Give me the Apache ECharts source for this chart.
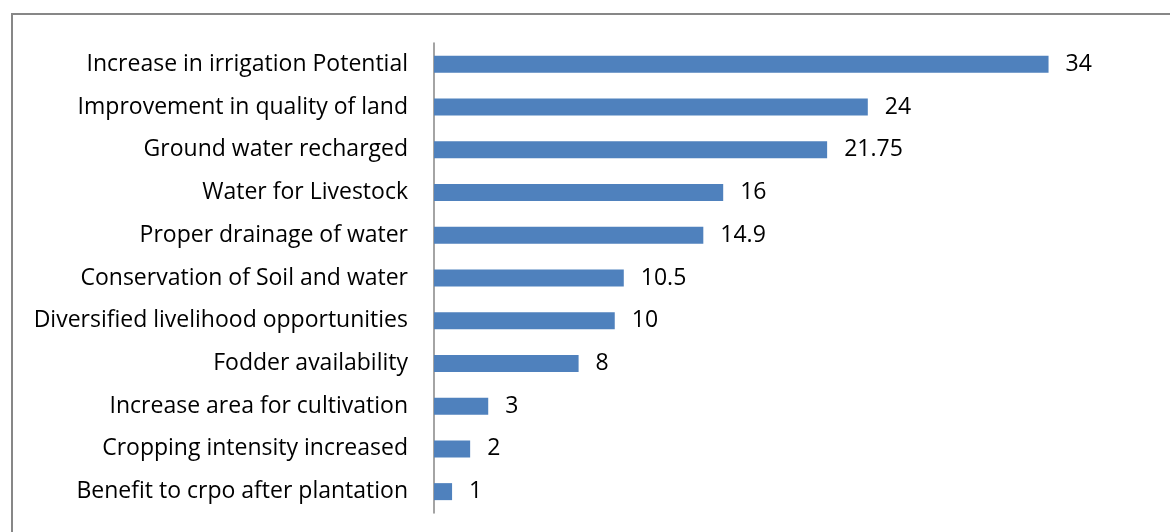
<!DOCTYPE html>
<html>
<head>
<meta charset="utf-8">
<script src="https://cdn.jsdelivr.net/npm/echarts@6/dist/echarts.min.js"></script>
<style>
  html, body { margin: 0; padding: 0; background: #fff; }
  #chart { width: 1170px; height: 532px; }
</style>
</head>
<body>
<div id="chart"></div>
<script>
// Reported benefits, listed bottom-to-top as the category axis draws them
const categories = [
  'Benefit to crpo after plantation',
  'Cropping intensity increased',
  'Increase area for cultivation',
  'Fodder availability',
  'Diversified livelihood opportunities',
  'Conservation of Soil and water',
  'Proper drainage of water',
  'Water for Livestock',
  'Ground water recharged',
  'Improvement in quality of land',
  'Increase in irrigation Potential'
];
const values = [1, 2, 3, 8, 10, 10.5, 14.9, 16, 21.75, 24, 34];

const FONT = '"Open Sans", "Noto Sans", sans-serif';

const chart = echarts.init(document.getElementById('chart'), null, { renderer: 'canvas' });
chart.setOption({
  animation: false,
  backgroundColor: '#ffffff',
  graphic: [{
    type: 'rect',
    shape: { x: 12, y: 14, width: 1200, height: 600 },
    style: { fill: 'none', stroke: '#878787', lineWidth: 2 },
    silent: true
  }],
  grid: { left: 434, right: 13, top: 43, height: 470, containLabel: false },
  xAxis: {
    type: 'value',
    min: 0,
    max: 40,
    show: false
  },
  yAxis: {
    type: 'category',
    data: categories,
    axisLine: { show: true, lineStyle: { color: '#868686', width: 1.5 } },
    axisTick: { show: false },
    axisLabel: {
      color: '#000',
      fontFamily: FONT,
      fontSize: 23,
      margin: 26,
      verticalAlign: 'middle',
      lineHeight: 23,
      padding: [6, 0, 0, 0]
    },
    splitLine: { show: false }
  },
  series: [{
    type: 'bar',
    data: values,
    barWidth: 17,
    itemStyle: { color: '#4F81BD' },
    label: {
      show: true,
      position: 'right',
      distance: 17,
      color: '#000',
      fontFamily: FONT,
      fontSize: 23,
      lineHeight: 23,
      padding: [6, 0, 0, 0]
    }
  }]
});
</script>
</body>
</html>
